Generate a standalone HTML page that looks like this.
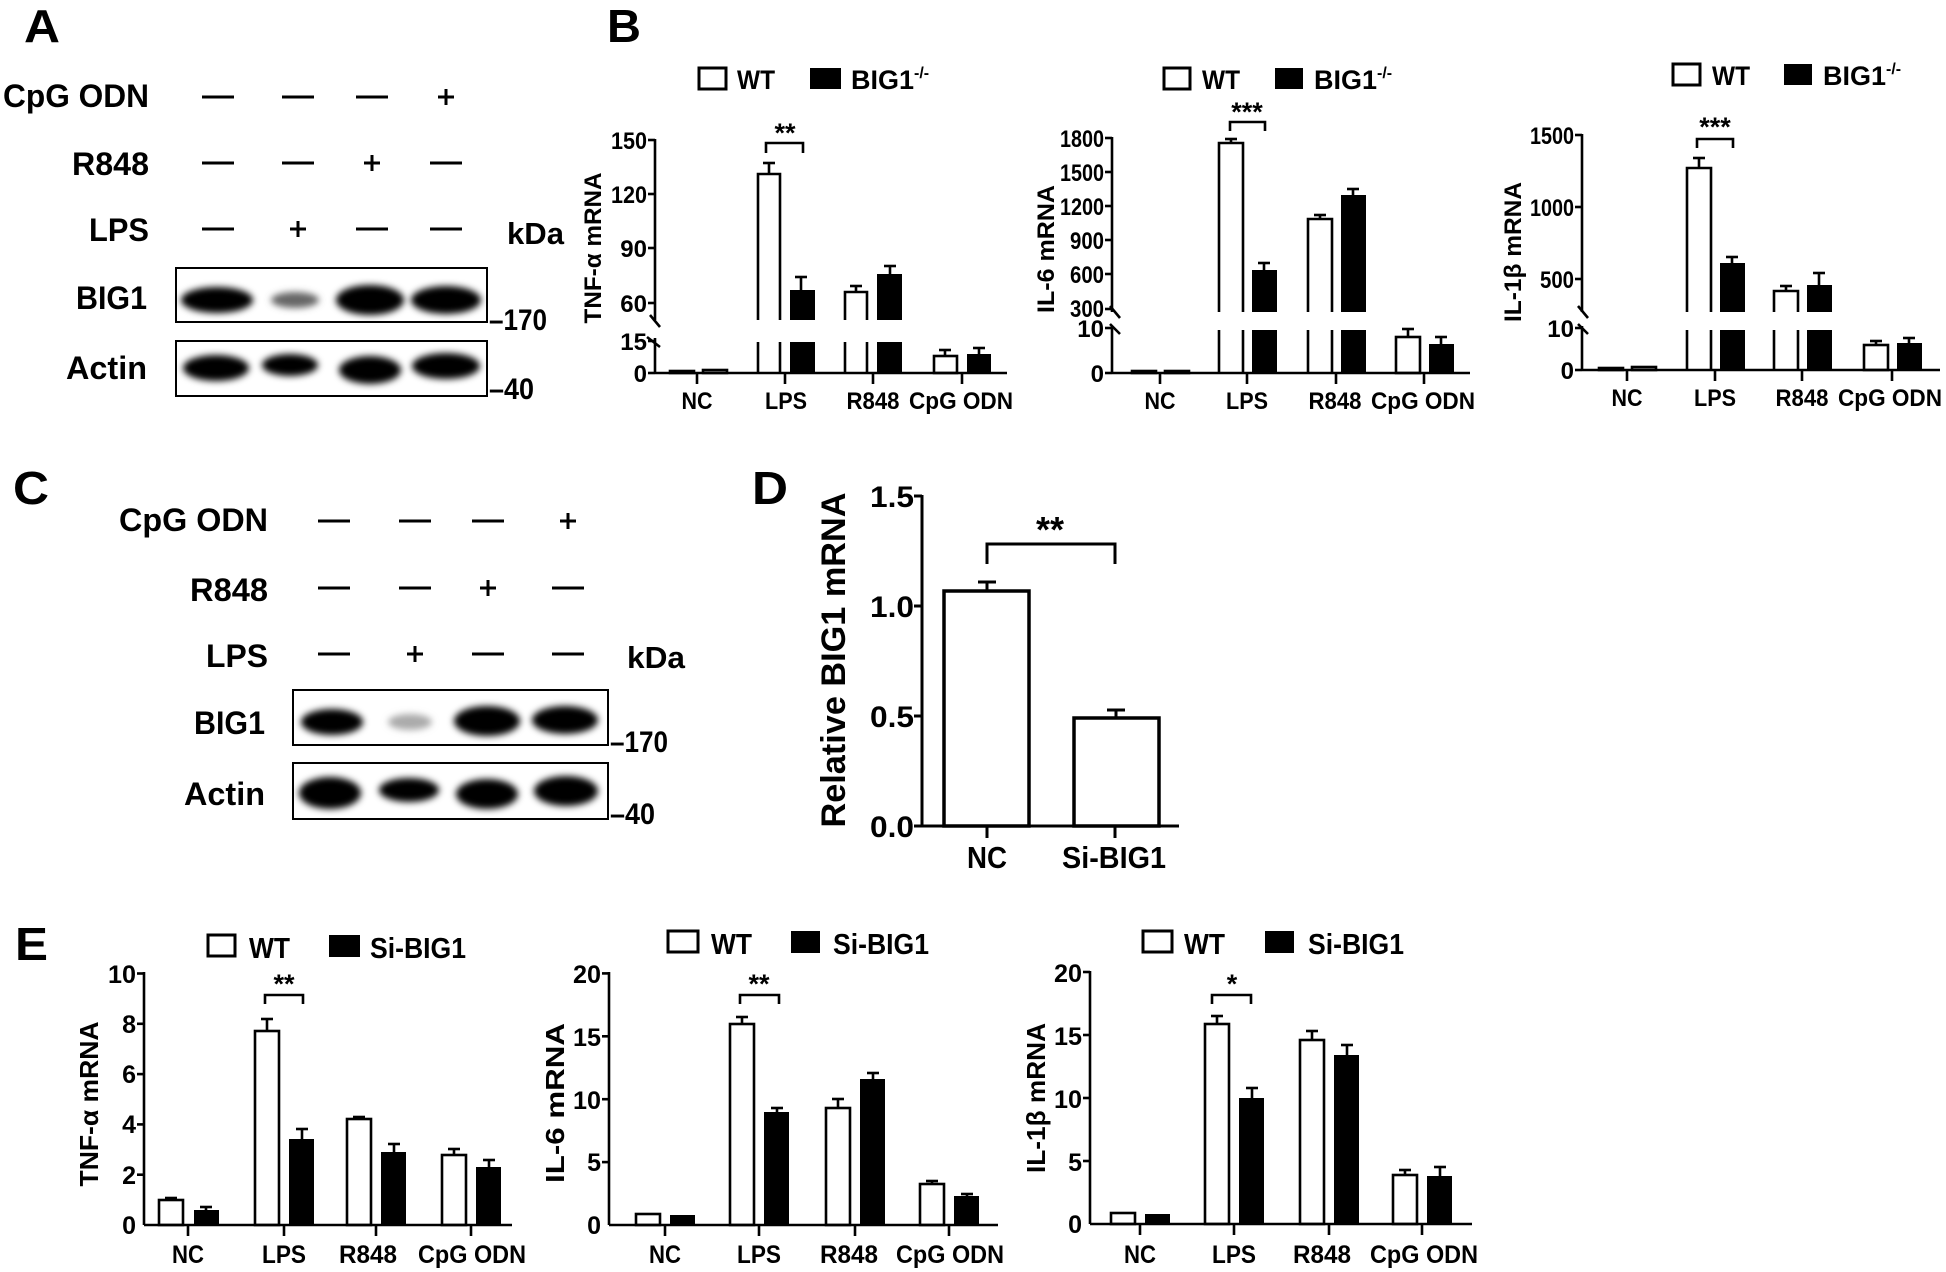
<!DOCTYPE html>
<html><head><meta charset="utf-8"><style>
html,body{margin:0;padding:0;background:#fff;}
svg{display:block;}
text{font-family:"Liberation Sans",Arial,sans-serif;font-weight:bold;fill:#000;}
</style></head><body>
<svg width="1946" height="1272" viewBox="0 0 1946 1272" xmlns="http://www.w3.org/2000/svg">
<defs>
<filter id="bl" x="-30%" y="-60%" width="160%" height="220%"><feGaussianBlur stdDeviation="3.5"/></filter>
</defs>

<!-- ===== Panel A ===== -->
<text x="24" y="42" font-size="46" textLength="36" lengthAdjust="spacingAndGlyphs">A</text>
<text x="149" y="107" font-size="32" text-anchor="end" textLength="146" lengthAdjust="spacingAndGlyphs">CpG ODN</text>
<text x="149" y="175" font-size="32" text-anchor="end" textLength="77" lengthAdjust="spacingAndGlyphs">R848</text>
<text x="149" y="241" font-size="32" text-anchor="end" textLength="60" lengthAdjust="spacingAndGlyphs">LPS</text>
<g stroke="#000" stroke-width="3">
<line x1="202" y1="97" x2="234" y2="97"/><line x1="282" y1="97" x2="314" y2="97"/><line x1="356" y1="97" x2="388" y2="97"/>
<line x1="438" y1="97" x2="454" y2="97"/><line x1="446" y1="89" x2="446" y2="105"/>
<line x1="202" y1="163" x2="234" y2="163"/><line x1="282" y1="163" x2="314" y2="163"/>
<line x1="364" y1="163" x2="380" y2="163"/><line x1="372" y1="155" x2="372" y2="171"/>
<line x1="430" y1="163" x2="462" y2="163"/>
<line x1="202" y1="229" x2="234" y2="229"/>
<line x1="290" y1="229" x2="306" y2="229"/><line x1="298" y1="221" x2="298" y2="237"/>
<line x1="356" y1="229" x2="388" y2="229"/><line x1="430" y1="229" x2="462" y2="229"/>
</g>
<text x="507" y="244" font-size="31" textLength="57" lengthAdjust="spacingAndGlyphs">kDa</text>
<text x="147" y="309" font-size="32" text-anchor="end" textLength="71" lengthAdjust="spacingAndGlyphs">BIG1</text>
<text x="147" y="379" font-size="32" text-anchor="end" textLength="81" lengthAdjust="spacingAndGlyphs">Actin</text>
<g filter="url(#bl)">
<ellipse cx="217" cy="300" rx="36" ry="13" fill="#000"/>
<ellipse cx="295" cy="300" rx="24" ry="8" fill="#666"/>
<ellipse cx="370" cy="300" rx="34" ry="15" fill="#000"/>
<ellipse cx="446" cy="300" rx="35" ry="14" fill="#000"/>
<ellipse cx="216" cy="368" rx="33" ry="13" fill="#000"/>
<ellipse cx="290" cy="365" rx="28" ry="11" fill="#000"/>
<ellipse cx="370" cy="370" rx="31" ry="14" fill="#000"/>
<ellipse cx="446" cy="366" rx="34" ry="13" fill="#000"/>
</g>
<rect x="176" y="268" width="311" height="54" fill="none" stroke="#000" stroke-width="2"/>
<rect x="176" y="341" width="311" height="55" fill="none" stroke="#000" stroke-width="2"/>
<text x="489" y="330" font-size="30" textLength="58" lengthAdjust="spacingAndGlyphs">–170</text>
<text x="489" y="399" font-size="30" textLength="45" lengthAdjust="spacingAndGlyphs">–40</text>

<!-- ===== Panel B ===== -->
<text x="607" y="42" font-size="46" textLength="34" lengthAdjust="spacingAndGlyphs">B</text>

<!-- B1 TNF -->
<g font-size="24">
<rect x="699" y="68" width="27" height="21" fill="#fff" stroke="#000" stroke-width="3"/>
<text x="737" y="89" font-size="27" textLength="38" lengthAdjust="spacingAndGlyphs">WT</text>
<rect x="810" y="68" width="31" height="21" fill="#000"/>
<text x="851" y="89" font-size="27">BIG1<tspan dy="-11" font-size="16">-/-</tspan></text>
<text transform="translate(601,248) rotate(-90)" text-anchor="middle" font-size="24" textLength="151" lengthAdjust="spacingAndGlyphs">TNF-α mRNA</text>
<g stroke="#000" stroke-width="2.6" fill="none">
<line x1="655" y1="139" x2="655" y2="320"/><line x1="655" y1="338" x2="655" y2="373"/>
<line x1="648" y1="140" x2="655" y2="140"/><line x1="648" y1="194" x2="655" y2="194"/><line x1="648" y1="248" x2="655" y2="248"/><line x1="648" y1="303" x2="655" y2="303"/>
<line x1="648" y1="341" x2="655" y2="341"/><line x1="648" y1="373" x2="655" y2="373"/>
<line x1="650" y1="315" x2="660" y2="327"/><line x1="647" y1="337" x2="660" y2="347"/>
<line x1="655" y1="373" x2="1007" y2="373"/>
<line x1="697" y1="373" x2="697" y2="384"/><line x1="785" y1="373" x2="785" y2="384"/><line x1="873" y1="373" x2="873" y2="384"/><line x1="962" y1="373" x2="962" y2="384"/>
<rect x="670" y="371" width="24" height="2"/><rect x="703" y="370" width="24" height="3"/>
<line x1="758" y1="342" x2="758" y2="373"/><line x1="780" y1="342" x2="780" y2="373"/>
<path d="M758 320 V174 H780 V320"/>
<line x1="769" y1="174" x2="769" y2="163"/><line x1="763" y1="163" x2="775" y2="163"/>
<line x1="801" y1="290" x2="801" y2="277"/><line x1="795" y1="277" x2="807" y2="277"/>
<line x1="845" y1="342" x2="845" y2="373"/><line x1="867" y1="342" x2="867" y2="373"/>
<path d="M845 320 V292 H867 V320"/>
<line x1="856" y1="292" x2="856" y2="286"/><line x1="850" y1="286" x2="862" y2="286"/>
<line x1="890" y1="274" x2="890" y2="266"/><line x1="884" y1="266" x2="896" y2="266"/>
<rect x="934" y="356" width="23" height="17"/>
<line x1="945" y1="356" x2="945" y2="350"/><line x1="939" y1="350" x2="951" y2="350"/>
<line x1="979" y1="354" x2="979" y2="348"/><line x1="973" y1="348" x2="985" y2="348"/>
<path d="M766 153 V143 H803 V153"/>
</g>
<g fill="#000">
<rect x="790" y="290" width="25" height="30"/><rect x="790" y="342" width="25" height="31"/>
<rect x="877" y="274" width="25" height="46"/><rect x="877" y="342" width="25" height="31"/>
<rect x="967" y="354" width="24" height="19"/>
</g>
<text x="785" y="142" font-size="27" text-anchor="middle">**</text>
<g text-anchor="end">
<text x="647" y="149" textLength="36" lengthAdjust="spacingAndGlyphs">150</text><text x="647" y="203" textLength="36" lengthAdjust="spacingAndGlyphs">120</text><text x="647" y="257">90</text><text x="647" y="312">60</text>
<text x="647" y="350">15</text><text x="647" y="382">0</text>
</g>
<g text-anchor="middle">
<text x="697" y="409" textLength="31" lengthAdjust="spacingAndGlyphs">NC</text><text x="786" y="409" textLength="42" lengthAdjust="spacingAndGlyphs">LPS</text><text x="873" y="409" textLength="53" lengthAdjust="spacingAndGlyphs">R848</text><text x="961" y="409" textLength="104" lengthAdjust="spacingAndGlyphs">CpG ODN</text>
</g>
</g>

<!-- B2 IL-6 -->
<g font-size="24">
<rect x="1164" y="68" width="26" height="21" fill="#fff" stroke="#000" stroke-width="3"/>
<text x="1202" y="89" font-size="27" textLength="38" lengthAdjust="spacingAndGlyphs">WT</text>
<rect x="1275" y="68" width="28" height="21" fill="#000"/>
<text x="1314" y="89" font-size="27">BIG1<tspan dy="-11" font-size="16">-/-</tspan></text>
<text transform="translate(1054,249) rotate(-90)" text-anchor="middle" font-size="24" textLength="128" lengthAdjust="spacingAndGlyphs">IL-6 mRNA</text>
<g stroke="#000" stroke-width="2.6" fill="none">
<line x1="1112" y1="137" x2="1112" y2="312"/><line x1="1112" y1="326" x2="1112" y2="373"/>
<line x1="1105" y1="138" x2="1112" y2="138"/><line x1="1105" y1="172" x2="1112" y2="172"/><line x1="1105" y1="206" x2="1112" y2="206"/><line x1="1105" y1="240" x2="1112" y2="240"/><line x1="1105" y1="274" x2="1112" y2="274"/><line x1="1105" y1="309" x2="1112" y2="309"/>
<line x1="1105" y1="328" x2="1112" y2="328"/><line x1="1105" y1="373" x2="1112" y2="373"/>
<line x1="1110" y1="306" x2="1120" y2="318"/><line x1="1110" y1="324" x2="1120" y2="334"/>
<line x1="1112" y1="373" x2="1470" y2="373"/>
<line x1="1160" y1="373" x2="1160" y2="384"/><line x1="1247" y1="373" x2="1247" y2="384"/><line x1="1336" y1="373" x2="1336" y2="384"/><line x1="1424" y1="373" x2="1424" y2="384"/>
<rect x="1132" y="371" width="24" height="2"/><rect x="1165" y="371" width="24" height="2"/>
<line x1="1219" y1="330" x2="1219" y2="373"/><line x1="1243" y1="330" x2="1243" y2="373"/>
<path d="M1219 312 V143 H1243 V312"/>
<line x1="1231" y1="143" x2="1231" y2="139"/><line x1="1225" y1="139" x2="1237" y2="139"/>
<line x1="1264" y1="270" x2="1264" y2="263"/><line x1="1258" y1="263" x2="1270" y2="263"/>
<line x1="1308" y1="330" x2="1308" y2="373"/><line x1="1332" y1="330" x2="1332" y2="373"/>
<path d="M1308 312 V219 H1332 V312"/>
<line x1="1320" y1="219" x2="1320" y2="215"/><line x1="1314" y1="215" x2="1326" y2="215"/>
<line x1="1353" y1="195" x2="1353" y2="189"/><line x1="1347" y1="189" x2="1359" y2="189"/>
<rect x="1396" y="337" width="24" height="36"/>
<line x1="1408" y1="337" x2="1408" y2="329"/><line x1="1402" y1="329" x2="1414" y2="329"/>
<line x1="1441" y1="344" x2="1441" y2="337"/><line x1="1435" y1="337" x2="1447" y2="337"/>
<path d="M1230 131 V122 H1265 V131"/>
</g>
<g fill="#000">
<rect x="1252" y="270" width="25" height="42"/><rect x="1252" y="330" width="25" height="43"/>
<rect x="1341" y="195" width="25" height="117"/><rect x="1341" y="330" width="25" height="43"/>
<rect x="1429" y="344" width="25" height="29"/>
</g>
<text x="1247" y="121" font-size="27" text-anchor="middle">***</text>
<g text-anchor="end">
<text x="1104" y="147" textLength="44" lengthAdjust="spacingAndGlyphs">1800</text><text x="1104" y="181" textLength="44" lengthAdjust="spacingAndGlyphs">1500</text><text x="1104" y="215" textLength="44" lengthAdjust="spacingAndGlyphs">1200</text><text x="1104" y="249" textLength="34" lengthAdjust="spacingAndGlyphs">900</text><text x="1104" y="283" textLength="34" lengthAdjust="spacingAndGlyphs">600</text><text x="1104" y="317" textLength="34" lengthAdjust="spacingAndGlyphs">300</text>
<text x="1104" y="337">10</text><text x="1104" y="382">0</text>
</g>
<g text-anchor="middle">
<text x="1160" y="409" textLength="31" lengthAdjust="spacingAndGlyphs">NC</text><text x="1247" y="409" textLength="42" lengthAdjust="spacingAndGlyphs">LPS</text><text x="1335" y="409" textLength="53" lengthAdjust="spacingAndGlyphs">R848</text><text x="1423" y="409" textLength="104" lengthAdjust="spacingAndGlyphs">CpG ODN</text>
</g>
</g>

<!-- B3 IL-1b -->
<g font-size="24">
<rect x="1673" y="64" width="27" height="21" fill="#fff" stroke="#000" stroke-width="3"/>
<text x="1712" y="85" font-size="27" textLength="38" lengthAdjust="spacingAndGlyphs">WT</text>
<rect x="1784" y="64" width="28" height="21" fill="#000"/>
<text x="1823" y="85" font-size="27">BIG1<tspan dy="-11" font-size="16">-/-</tspan></text>
<text transform="translate(1521,252) rotate(-90)" text-anchor="middle" font-size="24" textLength="140" lengthAdjust="spacingAndGlyphs">IL-1β mRNA</text>
<g stroke="#000" stroke-width="2.6" fill="none">
<line x1="1582" y1="134" x2="1582" y2="312"/><line x1="1582" y1="326" x2="1582" y2="370"/>
<line x1="1575" y1="135" x2="1582" y2="135"/><line x1="1575" y1="207" x2="1582" y2="207"/><line x1="1575" y1="279" x2="1582" y2="279"/>
<line x1="1575" y1="328" x2="1582" y2="328"/><line x1="1575" y1="370" x2="1582" y2="370"/>
<line x1="1578" y1="306" x2="1588" y2="318"/><line x1="1578" y1="324" x2="1588" y2="334"/>
<line x1="1582" y1="370" x2="1940" y2="370"/>
<line x1="1627" y1="370" x2="1627" y2="381"/><line x1="1715" y1="370" x2="1715" y2="381"/><line x1="1802" y1="370" x2="1802" y2="381"/><line x1="1892" y1="370" x2="1892" y2="381"/>
<rect x="1599" y="368" width="24" height="2"/><rect x="1632" y="367" width="24" height="3"/>
<line x1="1687" y1="330" x2="1687" y2="370"/><line x1="1711" y1="330" x2="1711" y2="370"/>
<path d="M1687 312 V168 H1711 V312"/>
<line x1="1699" y1="168" x2="1699" y2="158"/><line x1="1693" y1="158" x2="1705" y2="158"/>
<line x1="1732" y1="263" x2="1732" y2="257"/><line x1="1726" y1="257" x2="1738" y2="257"/>
<line x1="1774" y1="330" x2="1774" y2="370"/><line x1="1798" y1="330" x2="1798" y2="370"/>
<path d="M1774 312 V291 H1798 V312"/>
<line x1="1786" y1="291" x2="1786" y2="286"/><line x1="1780" y1="286" x2="1792" y2="286"/>
<line x1="1819" y1="285" x2="1819" y2="273"/><line x1="1813" y1="273" x2="1825" y2="273"/>
<rect x="1864" y="345" width="24" height="25"/>
<line x1="1876" y1="345" x2="1876" y2="341"/><line x1="1870" y1="341" x2="1882" y2="341"/>
<line x1="1909" y1="343" x2="1909" y2="338"/><line x1="1903" y1="338" x2="1915" y2="338"/>
<path d="M1697 148 V139 H1733 V148"/>
</g>
<g fill="#000">
<rect x="1720" y="263" width="25" height="49"/><rect x="1720" y="330" width="25" height="40"/>
<rect x="1807" y="285" width="25" height="27"/><rect x="1807" y="330" width="25" height="40"/>
<rect x="1897" y="343" width="25" height="27"/>
</g>
<text x="1715" y="136" font-size="27" text-anchor="middle">***</text>
<g text-anchor="end">
<text x="1574" y="144" textLength="44" lengthAdjust="spacingAndGlyphs">1500</text><text x="1574" y="216" textLength="44" lengthAdjust="spacingAndGlyphs">1000</text><text x="1574" y="288" textLength="34" lengthAdjust="spacingAndGlyphs">500</text>
<text x="1574" y="337">10</text><text x="1574" y="379">0</text>
</g>
<g text-anchor="middle">
<text x="1627" y="406" textLength="31" lengthAdjust="spacingAndGlyphs">NC</text><text x="1715" y="406" textLength="42" lengthAdjust="spacingAndGlyphs">LPS</text><text x="1802" y="406" textLength="53" lengthAdjust="spacingAndGlyphs">R848</text><text x="1890" y="406" textLength="104" lengthAdjust="spacingAndGlyphs">CpG ODN</text>
</g>
</g>

<!-- ===== Panel C ===== -->
<text x="13" y="504" font-size="46" textLength="36" lengthAdjust="spacingAndGlyphs">C</text>
<text x="268" y="531" font-size="32" text-anchor="end" textLength="149" lengthAdjust="spacingAndGlyphs">CpG ODN</text>
<text x="268" y="601" font-size="32" text-anchor="end" textLength="78" lengthAdjust="spacingAndGlyphs">R848</text>
<text x="268" y="667" font-size="32" text-anchor="end" textLength="62" lengthAdjust="spacingAndGlyphs">LPS</text>
<g stroke="#000" stroke-width="3">
<line x1="318" y1="521" x2="350" y2="521"/><line x1="399" y1="521" x2="431" y2="521"/><line x1="472" y1="521" x2="504" y2="521"/>
<line x1="560" y1="521" x2="576" y2="521"/><line x1="568" y1="513" x2="568" y2="529"/>
<line x1="318" y1="588" x2="350" y2="588"/><line x1="399" y1="588" x2="431" y2="588"/>
<line x1="480" y1="588" x2="496" y2="588"/><line x1="488" y1="580" x2="488" y2="596"/>
<line x1="552" y1="588" x2="584" y2="588"/>
<line x1="318" y1="654" x2="350" y2="654"/>
<line x1="407" y1="654" x2="423" y2="654"/><line x1="415" y1="646" x2="415" y2="662"/>
<line x1="472" y1="654" x2="504" y2="654"/><line x1="552" y1="654" x2="584" y2="654"/>
</g>
<text x="627" y="668" font-size="31" textLength="58" lengthAdjust="spacingAndGlyphs">kDa</text>
<text x="265" y="734" font-size="32" text-anchor="end" textLength="71" lengthAdjust="spacingAndGlyphs">BIG1</text>
<text x="265" y="805" font-size="32" text-anchor="end" textLength="81" lengthAdjust="spacingAndGlyphs">Actin</text>
<g filter="url(#bl)">
<ellipse cx="332" cy="722" rx="31" ry="13" fill="#000"/>
<ellipse cx="410" cy="722" rx="22" ry="8" fill="#aaa"/>
<ellipse cx="487" cy="721" rx="33" ry="15" fill="#000"/>
<ellipse cx="565" cy="720" rx="33" ry="14" fill="#000"/>
<ellipse cx="330" cy="793" rx="31" ry="16" fill="#000"/>
<ellipse cx="409" cy="790" rx="30" ry="12" fill="#000"/>
<ellipse cx="487" cy="794" rx="31" ry="15" fill="#000"/>
<ellipse cx="566" cy="791" rx="32" ry="15" fill="#000"/>
</g>
<rect x="293" y="690" width="315" height="55" fill="none" stroke="#000" stroke-width="2"/>
<rect x="293" y="763" width="315" height="56" fill="none" stroke="#000" stroke-width="2"/>
<text x="610" y="752" font-size="30" textLength="58" lengthAdjust="spacingAndGlyphs">–170</text>
<text x="610" y="824" font-size="30" textLength="45" lengthAdjust="spacingAndGlyphs">–40</text>

<!-- ===== Panel D ===== -->
<text x="752" y="504" font-size="46" textLength="36" lengthAdjust="spacingAndGlyphs">D</text>
<text transform="translate(845,660) rotate(-90)" text-anchor="middle" font-size="34" textLength="335" lengthAdjust="spacingAndGlyphs">Relative BIG1 mRNA</text>
<g stroke="#000" stroke-width="3" fill="none">
<line x1="922" y1="495" x2="922" y2="826"/>
<line x1="914" y1="496" x2="922" y2="496"/><line x1="914" y1="606" x2="922" y2="606"/><line x1="914" y1="716" x2="922" y2="716"/><line x1="914" y1="826" x2="922" y2="826"/>
<line x1="922" y1="826" x2="1179" y2="826"/>
<line x1="987" y1="826" x2="987" y2="838"/><line x1="1115" y1="826" x2="1115" y2="838"/>
<rect x="944" y="591" width="85" height="235" stroke-width="3.5"/>
<rect x="1074" y="718" width="85" height="108" stroke-width="3.5"/>
<line x1="987" y1="591" x2="987" y2="582"/><line x1="978" y1="582" x2="996" y2="582"/>
<line x1="1116" y1="718" x2="1116" y2="710"/><line x1="1107" y1="710" x2="1125" y2="710"/>
<path d="M987 564 V544 H1115 V564"/>
</g>
<text x="1050" y="542" font-size="36" text-anchor="middle">**</text>
<g font-size="30" text-anchor="end">
<text x="914" y="507" textLength="44" lengthAdjust="spacingAndGlyphs">1.5</text><text x="914" y="617" textLength="44" lengthAdjust="spacingAndGlyphs">1.0</text><text x="914" y="727" textLength="44" lengthAdjust="spacingAndGlyphs">0.5</text><text x="914" y="837" textLength="44" lengthAdjust="spacingAndGlyphs">0.0</text>
</g>
<text x="987" y="868" font-size="31" text-anchor="middle" textLength="40" lengthAdjust="spacingAndGlyphs">NC</text>
<text x="1114" y="868" font-size="31" text-anchor="middle" textLength="104" lengthAdjust="spacingAndGlyphs">Si-BIG1</text>

<!-- ===== Panel E ===== -->
<text x="15" y="960" font-size="46" textLength="33" lengthAdjust="spacingAndGlyphs">E</text>

<!-- E1 -->
<g font-size="25">
<rect x="208" y="935" width="27" height="21" fill="#fff" stroke="#000" stroke-width="3"/>
<text x="249" y="958" font-size="29" textLength="41" lengthAdjust="spacingAndGlyphs">WT</text>
<rect x="329" y="935" width="31" height="22" fill="#000"/>
<text x="370" y="958" font-size="29" textLength="96" lengthAdjust="spacingAndGlyphs">Si-BIG1</text>
<text transform="translate(98,1104) rotate(-90)" text-anchor="middle" font-size="26" textLength="165" lengthAdjust="spacingAndGlyphs">TNF-α mRNA</text>
<g stroke="#000" stroke-width="2.6" fill="none">
<line x1="144" y1="972" x2="144" y2="1225"/>
<line x1="137" y1="973.5" x2="144" y2="973.5"/><line x1="137" y1="1023.8" x2="144" y2="1023.8"/><line x1="137" y1="1074.1" x2="144" y2="1074.1"/><line x1="137" y1="1124.4" x2="144" y2="1124.4"/><line x1="137" y1="1174.7" x2="144" y2="1174.7"/>
<line x1="144" y1="1225" x2="512" y2="1225"/>
<line x1="188" y1="1225" x2="188" y2="1236"/><line x1="284" y1="1225" x2="284" y2="1236"/><line x1="376" y1="1225" x2="376" y2="1236"/><line x1="471" y1="1225" x2="471" y2="1236"/>
<rect x="159" y="1200" width="24" height="25"/>
<line x1="171" y1="1200" x2="171" y2="1198"/><line x1="165" y1="1198" x2="177" y2="1198"/>
<line x1="206" y1="1210" x2="206" y2="1207"/><line x1="200" y1="1207" x2="212" y2="1207"/>
<rect x="255" y="1031" width="24" height="194"/>
<line x1="267" y1="1031" x2="267" y2="1019"/><line x1="261" y1="1019" x2="273" y2="1019"/>
<line x1="302" y1="1139" x2="302" y2="1129"/><line x1="296" y1="1129" x2="308" y2="1129"/>
<rect x="347" y="1119" width="24" height="106"/>
<line x1="359" y1="1119" x2="359" y2="1117"/><line x1="353" y1="1117" x2="365" y2="1117"/>
<line x1="394" y1="1152" x2="394" y2="1144"/><line x1="388" y1="1144" x2="400" y2="1144"/>
<rect x="442" y="1155" width="24" height="70"/>
<line x1="454" y1="1155" x2="454" y2="1149"/><line x1="448" y1="1149" x2="460" y2="1149"/>
<line x1="489" y1="1167" x2="489" y2="1160"/><line x1="483" y1="1160" x2="495" y2="1160"/>
<path d="M265 1004 V995 H303 V1004"/>
</g>
<g fill="#000">
<rect x="194" y="1210" width="25" height="15"/><rect x="289" y="1139" width="25" height="86"/><rect x="381" y="1152" width="25" height="73"/><rect x="476" y="1167" width="25" height="58"/>
</g>
<text x="284" y="993" font-size="27" text-anchor="middle">**</text>
<g text-anchor="end">
<text x="136" y="983" textLength="28" lengthAdjust="spacingAndGlyphs">10</text><text x="136" y="1033">8</text><text x="136" y="1083">6</text><text x="136" y="1133">4</text><text x="136" y="1184">2</text><text x="136" y="1234">0</text>
</g>
<g text-anchor="middle">
<text x="188" y="1263" textLength="32" lengthAdjust="spacingAndGlyphs">NC</text><text x="284" y="1263" textLength="44" lengthAdjust="spacingAndGlyphs">LPS</text><text x="368" y="1263" textLength="58" lengthAdjust="spacingAndGlyphs">R848</text><text x="472" y="1263" textLength="108" lengthAdjust="spacingAndGlyphs">CpG ODN</text>
</g>
</g>

<!-- E2 -->
<g font-size="25">
<rect x="668" y="931" width="30" height="21" fill="#fff" stroke="#000" stroke-width="3"/>
<text x="711" y="954" font-size="29" textLength="41" lengthAdjust="spacingAndGlyphs">WT</text>
<rect x="791" y="931" width="29" height="22" fill="#000"/>
<text x="833" y="954" font-size="29" textLength="96" lengthAdjust="spacingAndGlyphs">Si-BIG1</text>
<text transform="translate(564,1103) rotate(-90)" text-anchor="middle" font-size="26" textLength="160" lengthAdjust="spacingAndGlyphs">IL-6 mRNA</text>
<g stroke="#000" stroke-width="2.6" fill="none">
<line x1="609" y1="972" x2="609" y2="1225"/>
<line x1="602" y1="973.4" x2="609" y2="973.4"/><line x1="602" y1="1036.3" x2="609" y2="1036.3"/><line x1="602" y1="1099.2" x2="609" y2="1099.2"/><line x1="602" y1="1162.1" x2="609" y2="1162.1"/>
<line x1="609" y1="1225" x2="998" y2="1225"/>
<line x1="665" y1="1225" x2="665" y2="1236"/><line x1="759" y1="1225" x2="759" y2="1236"/><line x1="855" y1="1225" x2="855" y2="1236"/><line x1="949" y1="1225" x2="949" y2="1236"/>
<rect x="636" y="1214" width="24" height="11"/>
<rect x="730" y="1024" width="24" height="201"/>
<line x1="742" y1="1024" x2="742" y2="1017"/><line x1="736" y1="1017" x2="748" y2="1017"/>
<line x1="777" y1="1112" x2="777" y2="1108"/><line x1="771" y1="1108" x2="783" y2="1108"/>
<rect x="826" y="1108" width="24" height="117"/>
<line x1="838" y1="1108" x2="838" y2="1099"/><line x1="832" y1="1099" x2="844" y2="1099"/>
<line x1="873" y1="1079" x2="873" y2="1073"/><line x1="867" y1="1073" x2="879" y2="1073"/>
<rect x="920" y="1184" width="24" height="41"/>
<line x1="932" y1="1184" x2="932" y2="1181"/><line x1="926" y1="1181" x2="938" y2="1181"/>
<line x1="967" y1="1196" x2="967" y2="1194"/><line x1="961" y1="1194" x2="973" y2="1194"/>
<path d="M740 1004 V995 H779 V1004"/>
</g>
<g fill="#000">
<rect x="670" y="1215" width="25" height="10"/><rect x="764" y="1112" width="25" height="113"/><rect x="860" y="1079" width="25" height="146"/><rect x="954" y="1196" width="25" height="29"/>
</g>
<text x="759" y="993" font-size="27" text-anchor="middle">**</text>
<g text-anchor="end">
<text x="601" y="983" textLength="28" lengthAdjust="spacingAndGlyphs">20</text><text x="601" y="1046" textLength="28" lengthAdjust="spacingAndGlyphs">15</text><text x="601" y="1109" textLength="28" lengthAdjust="spacingAndGlyphs">10</text><text x="601" y="1171">5</text><text x="601" y="1234">0</text>
</g>
<g text-anchor="middle">
<text x="665" y="1263" textLength="32" lengthAdjust="spacingAndGlyphs">NC</text><text x="759" y="1263" textLength="44" lengthAdjust="spacingAndGlyphs">LPS</text><text x="849" y="1263" textLength="58" lengthAdjust="spacingAndGlyphs">R848</text><text x="950" y="1263" textLength="108" lengthAdjust="spacingAndGlyphs">CpG ODN</text>
</g>
</g>

<!-- E3 -->
<g font-size="25">
<rect x="1143" y="931" width="29" height="21" fill="#fff" stroke="#000" stroke-width="3"/>
<text x="1184" y="954" font-size="29" textLength="41" lengthAdjust="spacingAndGlyphs">WT</text>
<rect x="1265" y="931" width="29" height="22" fill="#000"/>
<text x="1308" y="954" font-size="29" textLength="96" lengthAdjust="spacingAndGlyphs">Si-BIG1</text>
<text transform="translate(1045,1098) rotate(-90)" text-anchor="middle" font-size="26" textLength="150" lengthAdjust="spacingAndGlyphs">IL-1β mRNA</text>
<g stroke="#000" stroke-width="2.6" fill="none">
<line x1="1090" y1="971" x2="1090" y2="1224"/>
<line x1="1083" y1="972" x2="1090" y2="972"/><line x1="1083" y1="1035" x2="1090" y2="1035"/><line x1="1083" y1="1098" x2="1090" y2="1098"/><line x1="1083" y1="1161" x2="1090" y2="1161"/>
<line x1="1090" y1="1224" x2="1472" y2="1224"/>
<line x1="1140" y1="1224" x2="1140" y2="1235"/><line x1="1234" y1="1224" x2="1234" y2="1235"/><line x1="1329" y1="1224" x2="1329" y2="1235"/><line x1="1422" y1="1224" x2="1422" y2="1235"/>
<rect x="1111" y="1213" width="24" height="11"/>
<rect x="1205" y="1024" width="24" height="200"/>
<line x1="1217" y1="1024" x2="1217" y2="1016"/><line x1="1211" y1="1016" x2="1223" y2="1016"/>
<line x1="1252" y1="1098" x2="1252" y2="1088"/><line x1="1246" y1="1088" x2="1258" y2="1088"/>
<rect x="1300" y="1040" width="24" height="184"/>
<line x1="1312" y1="1040" x2="1312" y2="1031"/><line x1="1306" y1="1031" x2="1318" y2="1031"/>
<line x1="1347" y1="1055" x2="1347" y2="1045"/><line x1="1341" y1="1045" x2="1353" y2="1045"/>
<rect x="1393" y="1175" width="24" height="49"/>
<line x1="1405" y1="1175" x2="1405" y2="1170"/><line x1="1399" y1="1170" x2="1411" y2="1170"/>
<line x1="1440" y1="1176" x2="1440" y2="1167"/><line x1="1434" y1="1167" x2="1446" y2="1167"/>
<path d="M1212 1004 V995 H1251 V1004"/>
</g>
<g fill="#000">
<rect x="1145" y="1214" width="25" height="10"/><rect x="1239" y="1098" width="25" height="126"/><rect x="1334" y="1055" width="25" height="169"/><rect x="1427" y="1176" width="25" height="48"/>
</g>
<text x="1232" y="993" font-size="27" text-anchor="middle">*</text>
<g text-anchor="end">
<text x="1082" y="982" textLength="28" lengthAdjust="spacingAndGlyphs">20</text><text x="1082" y="1045" textLength="28" lengthAdjust="spacingAndGlyphs">15</text><text x="1082" y="1108" textLength="28" lengthAdjust="spacingAndGlyphs">10</text><text x="1082" y="1171">5</text><text x="1082" y="1233">0</text>
</g>
<g text-anchor="middle">
<text x="1140" y="1263" textLength="32" lengthAdjust="spacingAndGlyphs">NC</text><text x="1234" y="1263" textLength="44" lengthAdjust="spacingAndGlyphs">LPS</text><text x="1322" y="1263" textLength="58" lengthAdjust="spacingAndGlyphs">R848</text><text x="1424" y="1263" textLength="108" lengthAdjust="spacingAndGlyphs">CpG ODN</text>
</g>
</g>
</svg>
</body></html>
